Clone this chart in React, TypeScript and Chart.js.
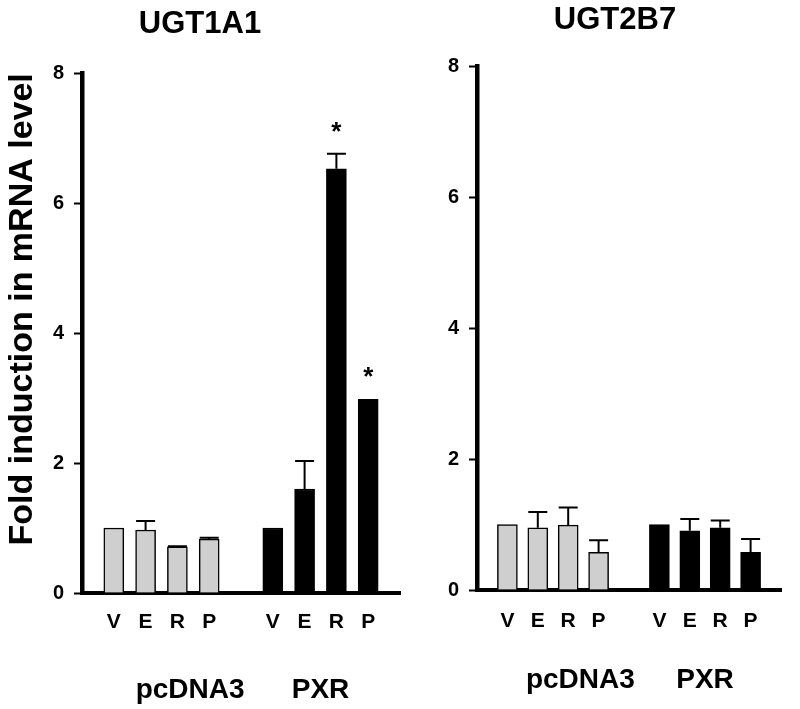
import React, { useEffect, useRef } from 'react';
import { Chart, registerables } from 'chart.js';

Chart.register(...registerables);

// ---------- data ----------
const slotLabels = ['V', 'E', 'R', 'P'];
const groupNames = ['pcDNA3', 'PXR'];
const yTicks = [0, 2, 4, 6, 8];

const ugt1a1Pcdna3 = [1.0, 0.97, 0.71, 0.83];
const ugt1a1Pcdna3Err = [0, 0.14, 0.01, 0.02];
const ugt1a1Pxr = [1.0, 1.6, 6.53, 2.98];
const ugt1a1PxrErr = [0, 0.43, 0.23, 0];
const ugt1a1PxrSig = [false, false, true, true];

const ugt2b7Pcdna3 = [1.0, 0.95, 0.99, 0.575];
const ugt2b7Pcdna3Err = [0, 0.24, 0.27, 0.185];
const ugt2b7Pxr = [1.0, 0.905, 0.95, 0.575];
const ugt2b7PxrErr = [0, 0.18, 0.11, 0.205];

// ---------- helpers ----------
const FAMILY = "'Liberation Sans', Arial, Helvetica, sans-serif";
const categories = ['', ...slotLabels, '', ...slotLabels, ''];
const padFirst = (arr: any[], fill: any = null) => [fill, ...arr, fill, fill, fill, fill, fill, fill];
const padSecond = (arr: any[], fill: any = null) => [fill, fill, fill, fill, fill, fill, ...arr, fill];

const errorBarPlugin = {
  id: 'errorBars',
  afterDatasetsDraw(chart: any) {
    const { ctx } = chart;
    const yScale = chart.scales.y;
    chart.data.datasets.forEach((ds: any, di: number) => {
      const meta = chart.getDatasetMeta(di);
      meta.data.forEach((bar: any, i: number) => {
        const v = ds.data[i];
        if (v == null) return;
        const e = ds.errors ? ds.errors[i] : 0;
        let top = bar.y;
        ctx.save();
        ctx.strokeStyle = '#000';
        ctx.lineWidth = 2;
        if (e) {
          top = yScale.getPixelForValue(v + e);
          ctx.beginPath();
          ctx.moveTo(bar.x, bar.y);
          ctx.lineTo(bar.x, top);
          ctx.moveTo(bar.x - 9.5, top);
          ctx.lineTo(bar.x + 9.5, top);
          ctx.stroke();
        }
        if (ds.sig && ds.sig[i]) {
          ctx.fillStyle = '#000';
          ctx.font = `bold 26px ${FAMILY}`;
          ctx.textAlign = 'center';
          ctx.textBaseline = 'alphabetic';
          ctx.fillText('*', bar.x, top - 14);
        }
        ctx.restore();
      });
    });
  },
};

const groupLabelPlugin = {
  id: 'groupLabels',
  afterDraw(chart: any, _args: any, opts: any) {
    const { ctx } = chart;
    const xs = chart.scales.x;
    ctx.save();
    ctx.fillStyle = '#000';
    ctx.font = `bold 28px ${FAMILY}`;
    ctx.textAlign = 'center';
    ctx.textBaseline = 'alphabetic';
    (opts.groups || []).forEach((g: any) => {
      ctx.fillText(g.text, xs.getPixelForValue(g.at), opts.baseline);
    });
    ctx.restore();
  },
};

function makeConfig(p: any) {
  return {
    type: 'bar',
    data: {
      labels: categories,
      datasets: [
        {
          data: padFirst(p.a),
          errors: padFirst(p.aErr, 0),
          backgroundColor: '#cfcfcf',
          borderColor: '#000',
          borderWidth: 1.5,
          barThickness: 20,
          grouped: false,
        },
        {
          data: padSecond(p.b),
          errors: padSecond(p.bErr, 0),
          sig: p.bSig ? padSecond(p.bSig, false) : null,
          backgroundColor: '#000',
          borderColor: '#000',
          borderWidth: 1.5,
          barThickness: 20,
          grouped: false,
        },
      ],
    },
    options: {
      responsive: false,
      animation: false,
      devicePixelRatio: 1,
      layout: { padding: { left: 0, right: p.padRight, top: 0, bottom: 0 } },
      plugins: {
        legend: { display: false },
        tooltip: { enabled: false },
        title: {
          display: true,
          text: p.title,
          color: '#000',
          font: { size: 31, weight: 'bold', family: FAMILY },
          padding: { top: p.titleTop, bottom: p.titleBottom },
        },
        groupLabels: {
          baseline: p.groupBaseline,
          groups: [
            { text: groupNames[0], at: 3.4 },
            { text: groupNames[1], at: 7.5 },
          ],
        },
      },
      scales: {
        x: {
          type: 'category',
          offset: false,
          grid: { display: false, drawTicks: false },
          border: { display: true, color: '#000', width: 4 },
          ticks: {
            color: '#000',
            autoSkip: false,
            maxRotation: 0,
            padding: p.xPad,
            font: { size: 21, weight: 'bold', family: FAMILY },
          },
          afterFit: (s: any) => {
            s.height = p.xHeight;
          },
        },
        y: {
          min: 0,
          max: 8,
          grid: {
            display: true,
            drawOnChartArea: false,
            drawTicks: true,
            tickLength: 8,
            tickWidth: 2,
            tickColor: '#000',
          },
          border: { display: true, color: '#000', width: 4.5 },
          ticks: {
            stepSize: 2,
            padding: 10,
            color: '#000',
            font: { size: 20, weight: 'bold', family: FAMILY },
          },
          afterBuildTicks: (s: any) => {
            s.ticks = yTicks.map((v) => ({ value: v }));
          },
          title: p.yTitle
            ? {
                display: true,
                text: p.yTitle,
                align: 'end',
                color: '#000',
                font: { size: 34, weight: 'bold', family: FAMILY },
                padding: { top: 2, bottom: 0 },
              }
            : { display: false },
          afterFit: (s: any) => {
            s.width = p.yWidth;
          },
        },
      },
    },
    plugins: [errorBarPlugin, groupLabelPlugin],
  };
}

function Panel({ left, width, build }: { left: number; width: number; build: () => any }) {
  const ref = useRef<HTMLCanvasElement | null>(null);
  useEffect(() => {
    if (!ref.current) return;
    const chart = new Chart(ref.current, build());
    return () => chart.destroy();
  }, []);
  return (
    <canvas
      ref={ref}
      width={width}
      height={709}
      style={{ position: 'absolute', left, top: 0, width, height: 709 }}
    />
  );
}

export default function App() {
  return (
    <div style={{ position: 'absolute', left: 0, top: 0, width: 800, height: 709, background: '#fff', overflow: 'hidden' }}>
      <Panel
        left={0}
        width={450}
        build={() =>
          makeConfig({
            title: 'UGT1A1',
            titleTop: 6,
            titleBottom: 30,
            a: ugt1a1Pcdna3,
            aErr: ugt1a1Pcdna3Err,
            b: ugt1a1Pxr,
            bErr: ugt1a1PxrErr,
            bSig: ugt1a1PxrSig,
            yTitle: 'Fold induction in mRNA level',
            yWidth: 82,
            padRight: 50,
            xHeight: 116,
            xPad: 17,
            groupBaseline: 698,
          })
        }
      />
      <Panel
        left={438}
        width={362}
        build={() =>
          makeConfig({
            title: 'UGT2B7',
            titleTop: 2,
            titleBottom: 27,
            a: ugt2b7Pcdna3,
            aErr: ugt2b7Pcdna3Err,
            b: ugt2b7Pxr,
            bErr: ugt2b7PxrErr,
            bSig: null,
            yTitle: null,
            yWidth: 39,
            padRight: 8,
            xHeight: 119,
            xPad: 19,
            groupBaseline: 688,
          })
        }
      />
    </div>
  );
}
